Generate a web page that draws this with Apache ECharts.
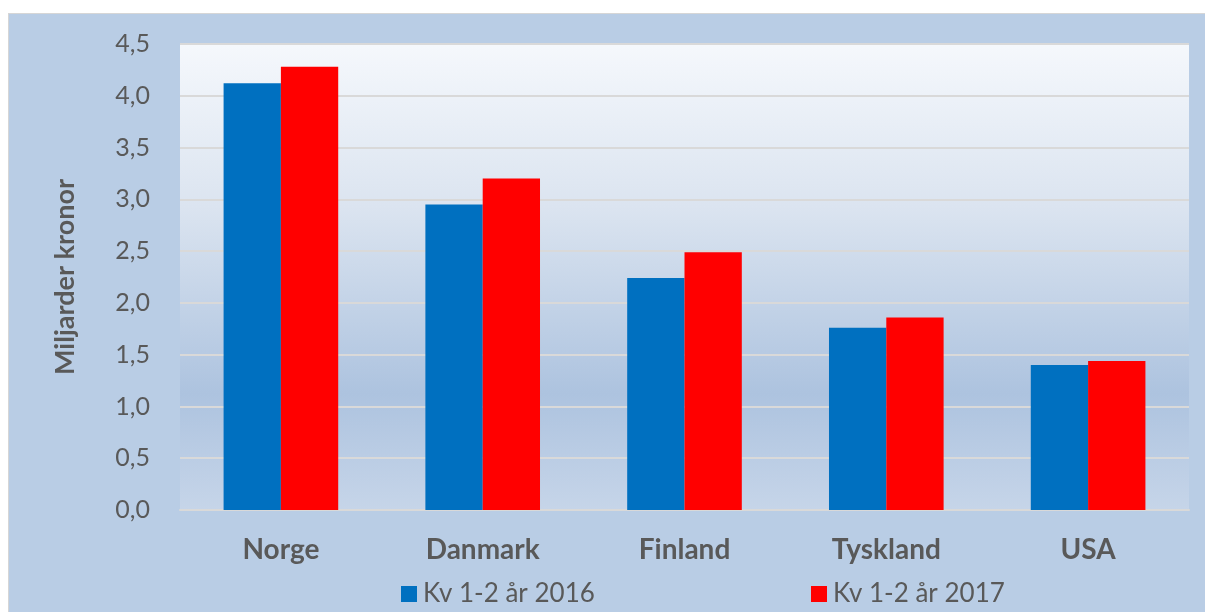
<!DOCTYPE html>
<html>
<head>
<meta charset="utf-8">
<script src="https://cdn.jsdelivr.net/npm/echarts@6/dist/echarts.min.js"></script>
<style>
  html, body { margin: 0; padding: 0; background: #fff; width: 1205px; height: 612px; overflow: hidden; }
  #chart {
    position: absolute; left: 8px; top: 13px; width: 1197px; height: 599px;
    background: #b9cde5; border-top: 1px solid #d6d6d6; border-left: 1px solid #d6d6d6;
    box-sizing: border-box;
  }
</style>
</head>
<body>
<div id="chart"></div>
<script>
// land
const categories = ['Norge', 'Danmark', 'Finland', 'Tyskland', 'USA'];
// serier
const seriesNames = ['Kv 1-2 år 2016', 'Kv 1-2 år 2017'];
const values2016 = [4.12, 2.95, 2.24, 1.76, 1.40];
const values2017 = [4.28, 3.20, 2.49, 1.86, 1.44];
const colors = ['#0070c0', '#ff0000'];

const font = 'Lato, "Open Sans", sans-serif';
const chart = echarts.init(document.getElementById('chart'));

const common = {
  type: 'bar',
  barWidth: '28.4%',
  barGap: '0%'
};

const legendText = { fontSize: 26, color: '#595959', fontFamily: font, padding: [0, 0, 0, 1] };

chart.setOption({
  animation: false,
  textStyle: { fontFamily: font },
  grid: {
    left: 171, top: 30, width: 1009, height: 466,
    show: true, borderWidth: 0,
    backgroundColor: new echarts.graphic.LinearGradient(0, 0, 0, 1, [
      { offset: 0, color: '#f5f8fc' },
      { offset: 0.35, color: '#dbe4f0' },
      { offset: 0.75, color: '#adc3df' },
      { offset: 1, color: '#c6d5e9' }
    ])
  },
  legend: [
    {
      data: [seriesNames[0]], left: 387, top: 562,
      icon: 'rect', itemWidth: 16, itemHeight: 16, itemGap: 8,
      textStyle: legendText
    },
    {
      data: [seriesNames[1]], left: 797, top: 562,
      icon: 'rect', itemWidth: 16, itemHeight: 16, itemGap: 8,
      textStyle: legendText
    }
  ],
  xAxis: {
    type: 'category',
    data: categories,
    axisTick: { show: false },
    axisLine: { lineStyle: { color: '#d9d9d9', width: 2 } },
    axisLabel: { margin: 26, fontSize: 28, fontWeight: 'bold', color: '#595959', fontFamily: font }
  },
  yAxis: {
    type: 'value',
    min: 0, max: 4.5, interval: 0.5,
    name: 'Miljarder kronor',
    nameLocation: 'middle',
    nameGap: 101,
    nameTextStyle: { fontSize: 27, fontWeight: 'bold', color: '#595959', fontFamily: font },
    axisLine: { show: false },
    axisTick: { show: false },
    splitLine: { lineStyle: { color: '#d9d9d9', width: 2 } },
    axisLabel: {
      margin: 30, fontSize: 25, color: '#595959', fontFamily: font,
      formatter: v => v.toFixed(1).replace('.', ',')
    }
  },
  series: [
    { ...common, name: seriesNames[0], data: values2016, itemStyle: { color: colors[0] } },
    { ...common, name: seriesNames[1], data: values2017, itemStyle: { color: colors[1] } }
  ]
});
</script>
</body>
</html>
